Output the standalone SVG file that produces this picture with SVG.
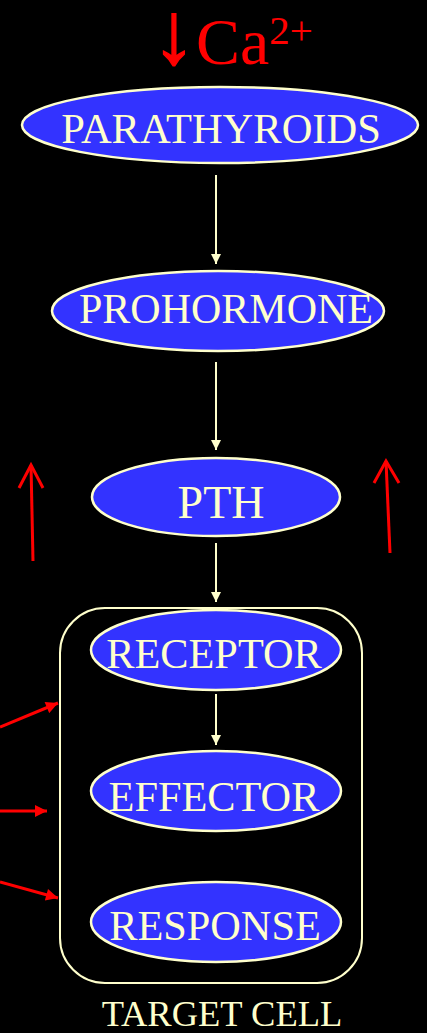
<svg xmlns="http://www.w3.org/2000/svg" width="427" height="1033" viewBox="0 0 427 1033">
<defs>
<style>
.n ellipse{fill:#3333ff;stroke:#ffffcc;stroke-width:2.5}
.t{font-family:"Liberation Serif","Times New Roman",serif;fill:#ffffcc;text-anchor:middle}
.c line{stroke:#ffffcc;stroke-width:2}
.r line{stroke:#ff0000;stroke-width:3}
</style>
<marker id="ah" viewBox="0 0 10 10" refX="10" refY="5" markerWidth="10" markerHeight="10" markerUnits="userSpaceOnUse" orient="auto"><path d="M0,0 L10,5 L0,10 Z" fill="#ffffcc"/></marker>
<marker id="rh" viewBox="0 0 10 10" refX="10" refY="5" markerWidth="14" markerHeight="12" markerUnits="userSpaceOnUse" orient="auto"><path d="M0,0 L10,5 L0,10 Z" fill="#ff0000"/></marker>
</defs>
<rect width="427" height="1033" fill="#000"/>
<g id="calcium">
<text x="152" y="64" font-family="'Liberation Serif','DejaVu Serif',serif" fill="#ff0000" font-size="66"><tspan font-size="88" dy="-1" stroke="#ff0000" stroke-width="1.5">↓</tspan><tspan dy="1">Ca</tspan><tspan font-size="41" dy="-20">2+</tspan></text>
</g>
<g id="parathyroids" class="n"><ellipse cx="220" cy="125" rx="198" ry="38"/><text class="t" x="221" y="143" font-size="42.5">PARATHYROIDS</text></g>
<g id="prohormone" class="n"><ellipse cx="218" cy="311" rx="166" ry="40"/><text class="t" x="226" y="323" font-size="42">PROHORMONE</text></g>
<g id="pth" class="n"><ellipse cx="216" cy="497" rx="124" ry="39"/><text class="t" x="221" y="518" font-size="46">PTH</text></g>
<g id="target-cell"><rect x="60" y="608" width="302" height="375" rx="45" fill="none" stroke="#ffffcc" stroke-width="2"/><text class="t" x="222" y="1026" font-size="36.5">TARGET CELL</text></g>
<g id="receptor" class="n"><ellipse cx="216" cy="650" rx="125" ry="40"/><text class="t" x="214" y="668" font-size="42.3">RECEPTOR</text></g>
<g id="effector" class="n"><ellipse cx="216" cy="791" rx="125" ry="40"/><text class="t" x="214" y="811" font-size="42.3">EFFECTOR</text></g>
<g id="response" class="n"><ellipse cx="216" cy="922" rx="125" ry="40"/><text class="t" x="215" y="940" font-size="42.3">RESPONSE</text></g>
<g id="connectors" class="c">
<line x1="216" y1="175" x2="216" y2="264" marker-end="url(#ah)"/>
<line x1="216" y1="362" x2="216" y2="450" marker-end="url(#ah)"/>
<line x1="216" y1="543" x2="216" y2="602" marker-end="url(#ah)"/>
<line x1="216" y1="694" x2="216" y2="745" marker-end="url(#ah)"/>
</g>
<g id="red-arrows" class="r">
<line x1="33" y1="561" x2="31" y2="465"/><polyline points="19,488 31,465 43,488" fill="none" stroke="#ff0000" stroke-width="3"/>
<line x1="390" y1="553" x2="386" y2="461"/><polyline points="374,483 386,461 399,483" fill="none" stroke="#ff0000" stroke-width="3"/>
<line x1="0" y1="727" x2="58" y2="703" marker-end="url(#rh)"/>
<line x1="0" y1="811" x2="47" y2="811" marker-end="url(#rh)"/>
<line x1="0" y1="882" x2="58" y2="898" marker-end="url(#rh)"/>
</g>
</svg>
